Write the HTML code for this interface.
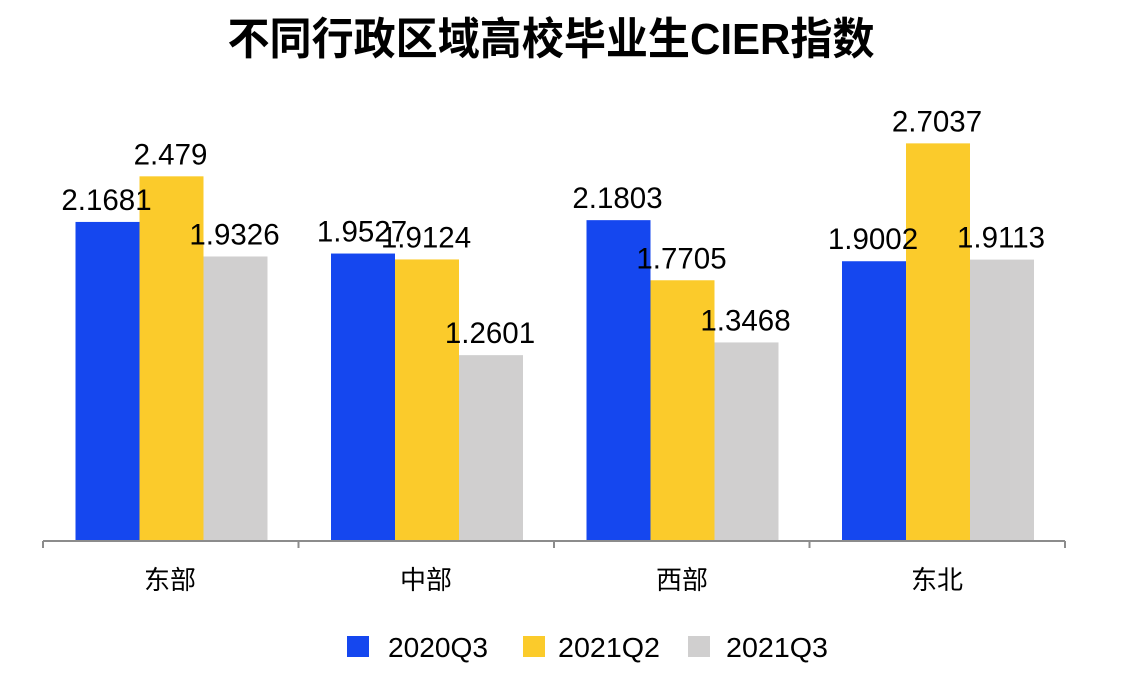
<!DOCTYPE html>
<html><head><meta charset="utf-8"><style>
html,body{margin:0;padding:0;background:#fff;}
svg{display:block;}
text{font-family:"Liberation Sans","Noto Sans CJK SC",sans-serif;fill:#000;}
</style></head><body>
<svg width="1142" height="673" viewBox="0 0 1142 673" xmlns="http://www.w3.org/2000/svg">
<text x="551" y="54" text-anchor="middle" font-size="44" font-weight="bold" textLength="647" lengthAdjust="spacingAndGlyphs">不同行政区域高校毕业生CIER指数</text>
<g id="bars"></g>
<line x1="43" y1="541" x2="1065" y2="541" stroke="#8c8c8c" stroke-width="2"/>
<g stroke="#8c8c8c" stroke-width="2">
<line x1="43" y1="541" x2="43" y2="548"/><line x1="298.5" y1="541" x2="298.5" y2="548"/><line x1="554" y1="541" x2="554" y2="548"/><line x1="809.5" y1="541" x2="809.5" y2="548"/><line x1="1065" y1="541" x2="1065" y2="548"/>
</g>
<g font-size="26" text-anchor="middle">
<text x="170" y="589">东部</text><text x="426" y="589">中部</text><text x="682" y="589">西部</text><text x="937" y="589">东北</text>
</g>
<rect x="347" y="636" width="22" height="21" fill="#1547ef"/>
<text x="388" y="657" font-size="28" textLength="100" lengthAdjust="spacingAndGlyphs">2020Q3</text>
<rect x="523" y="636" width="22" height="21" fill="#fbcb2b"/>
<text x="558" y="657" font-size="28" textLength="102" lengthAdjust="spacingAndGlyphs">2021Q2</text>
<rect x="688" y="636" width="22" height="21" fill="#d0cfcf"/>
<text x="726" y="657" font-size="28" textLength="102" lengthAdjust="spacingAndGlyphs">2021Q3</text>
</svg>
<script>
var data=[[2.1681,2.479,1.9326],[1.9527,1.9124,1.2601],[2.1803,1.7705,1.3468],[1.9002,2.7037,1.9113]];
var labels=[["2.1681","2.479","1.9326"],["1.9527","1.9124","1.2601"],["2.1803","1.7705","1.3468"],["1.9002","2.7037","1.9113"]];
var cols=["#1547ef","#fbcb2b","#d0cfcf"];
var g=document.getElementById("bars");
var bars="",txt="";
for(var i=0;i<4;i++){for(var j=0;j<3;j++){
var x=43+i*255.5+32.5+j*64,h=data[i][j]*146.7,y=540-h;
bars+='<rect x="'+x+'" y="'+y+'" width="64" height="'+h+'" fill="'+cols[j]+'"/>';
txt+='<text x="'+(x+31)+'" y="'+(y-12)+'" font-size="29.5" text-anchor="middle">'+labels[i][j]+'</text>';
}}
g.innerHTML=bars+txt;
</script>
</body></html>
